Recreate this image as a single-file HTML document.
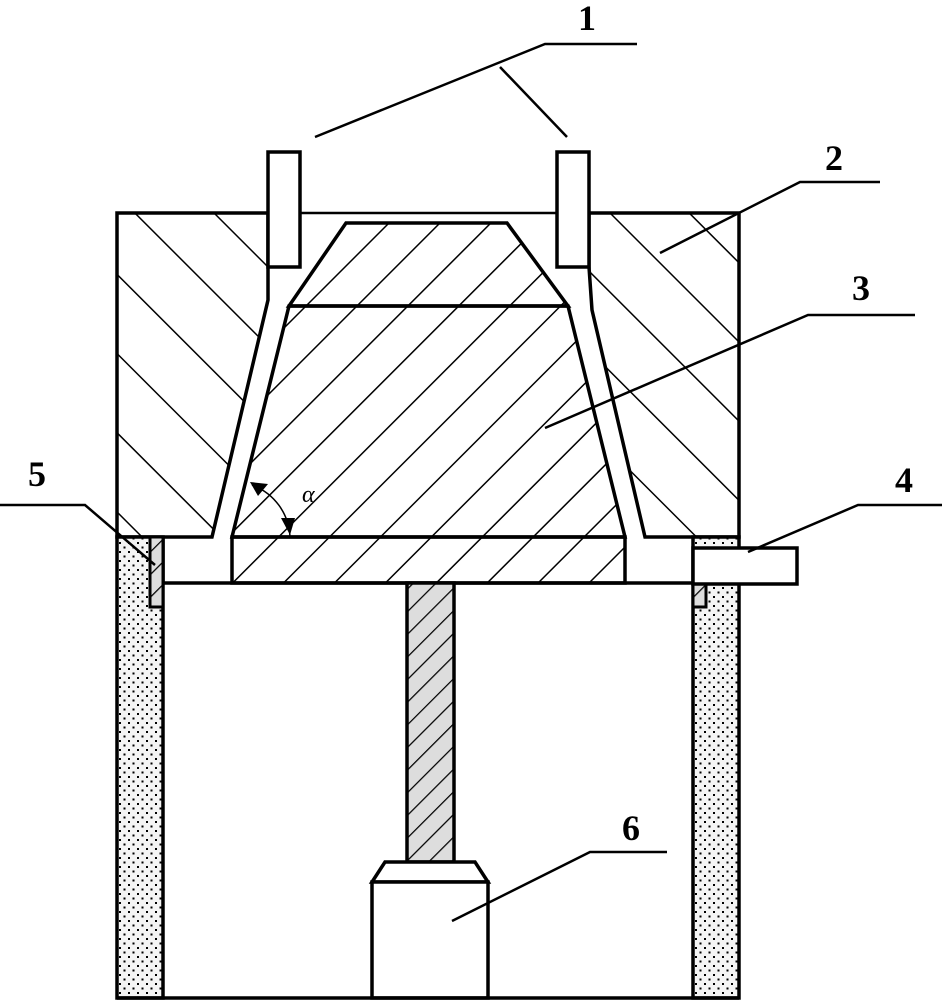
<!DOCTYPE html>
<html><head><meta charset="utf-8"><style>html,body{margin:0;padding:0;background:#fff}svg{display:block}</style></head>
<body>
<svg width="942" height="1001" viewBox="0 0 942 1001" xmlns="http://www.w3.org/2000/svg">
<defs>
<pattern id="h2" patternUnits="userSpaceOnUse" width="56" height="56" patternTransform="rotate(-45)">
<line x1="0" y1="0" x2="0" y2="56" stroke="#000" stroke-width="3"/></pattern>
<pattern id="h3" patternUnits="userSpaceOnUse" width="36" height="36" patternTransform="rotate(45)">
<line x1="0" y1="0" x2="0" y2="36" stroke="#000" stroke-width="3"/></pattern>
<pattern id="hs" patternUnits="userSpaceOnUse" width="16" height="16" patternTransform="rotate(45)">
<rect width="16" height="16" fill="#ddd"/>
<line x1="0" y1="0" x2="0" y2="16" stroke="#000" stroke-width="2.5"/></pattern>
<pattern id="dots" patternUnits="userSpaceOnUse" width="9" height="9">
<rect width="9" height="9" fill="#f4f4f4"/>
<rect x="2" y="2" width="2" height="2" fill="#000"/><rect x="6.5" y="6.5" width="2" height="2" fill="#000"/></pattern>
</defs>
<g stroke="#000" stroke-width="3.5" fill="none" stroke-linejoin="miter">
<polygon points="117,213 268,213 268,300 212,537 117,537" fill="url(#h2)"/>
<polygon points="589,213 739,213 739,537 645,537 592,310 589,267" fill="url(#h2)"/>
<line x1="286" y1="213" x2="589" y2="213" stroke-width="2.5"/>
<rect x="268" y="152" width="32" height="115" fill="#fff"/>
<rect x="557" y="152" width="32" height="115" fill="#fff"/>
<polygon points="346,223 507,223 568,306 289,306" fill="url(#h3)"/>
<polygon points="289,306 568,306 625,537 232,537" fill="url(#h3)"/>
<rect x="232" y="537" width="393" height="46" fill="url(#h3)"/>
<line x1="163" y1="583" x2="693" y2="583"/>
<line x1="163" y1="537" x2="163" y2="583"/>
<rect x="117" y="537" width="46" height="461" fill="url(#dots)"/>
<rect x="693" y="537" width="46" height="461" fill="url(#dots)"/>
<rect x="150" y="537" width="13" height="70" fill="url(#hs)" stroke-width="3"/>
<rect x="693" y="583" width="13" height="24" fill="url(#hs)" stroke-width="3"/>
<rect x="693" y="548" width="104" height="36" fill="#fff"/>
<rect x="407" y="583" width="47" height="279" fill="url(#hs)"/>
<polygon points="385,862 475,862 488,882 372,882" fill="#fff"/>
<rect x="372" y="882" width="116" height="116" fill="#fff"/>
<line x1="117" y1="998" x2="739" y2="998"/>
</g>
<g stroke="#000" stroke-width="2.5" fill="none">
<polyline points="637,44 545,44 315,137"/>
<line x1="500" y1="67" x2="567" y2="137"/>
<polyline points="880,182 800,182 660,253"/>
<polyline points="915,315 808,315 545,428"/>
<polyline points="942,505 858,505 748,552"/>
<polyline points="0,505 85,505 155,565"/>
<polyline points="667,852 590,852 452,921"/>
<path d="M252,485 A58,58 0 0 1 290,537" stroke-width="1.5"/>
</g>
<polygon points="250,482 268,484 258,496" fill="#000"/>
<polygon points="281,518 295,518 290,535" fill="#000"/>
<g font-family="Liberation Serif, serif" font-weight="bold" font-size="36" fill="#000">
<text x="578" y="30">1</text>
<text x="825" y="170">2</text>
<text x="852" y="300">3</text>
<text x="895" y="492">4</text>
<text x="28" y="486">5</text>
<text x="622" y="840">6</text>
</g>
<text x="302" y="502" font-family="Liberation Serif, serif" font-style="italic" font-size="24" fill="#000">α</text>
</svg>
</body></html>
